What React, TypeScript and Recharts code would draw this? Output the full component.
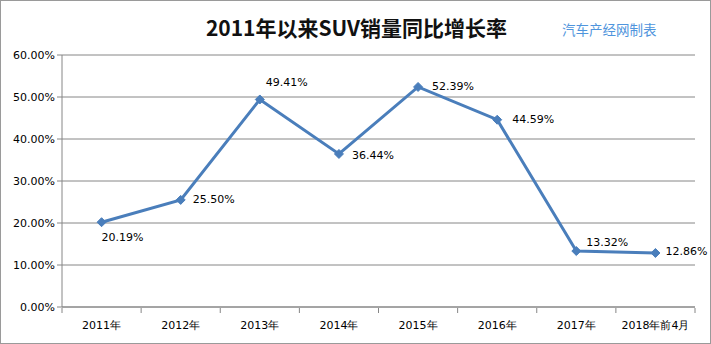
import { CartesianGrid, LabelList, Line, LineChart, XAxis, YAxis } from "recharts";

const categories = [
  "2011年",
  "2012年",
  "2013年",
  "2014年",
  "2015年",
  "2016年",
  "2017年",
  "2018年前4月",
];
const growth = [20.19, 25.5, 49.41, 36.44, 52.39, 44.59, 13.32, 12.86];
const yTicks = [0, 10, 20, 30, 40, 50, 60];

const data = categories.map((name, i) => ({ name, value: growth[i] }));

// label offsets (dx, dy) relative to each point, as in the original
const labelOffsets: [number, number][] = [
  [0, 15],
  [12, 0],
  [6, -17],
  [13, 2],
  [14, 0],
  [15, 0],
  [10, -9],
  [10, -1],
];

const W = 711;
const H = 344;
const PLOT_LEFT = 62;
const PLOT_RIGHT = 695;
const BAND = (PLOT_RIGHT - PLOT_LEFT) / categories.length;
const FONT = "'DejaVu Sans', sans-serif";
const BLUE = "#4a7ebb";

function Diamond(props: any) {
  const { cx, cy } = props;
  if (cx == null || cy == null) return null;
  const r = 4.5;
  return (
    <path
      d={`M${cx},${cy - r}L${cx + r},${cy}L${cx},${cy + r}L${cx - r},${cy}Z`}
      fill={BLUE}
      stroke={BLUE}
    />
  );
}

function XTick(props: any) {
  const { x, y, payload, index } = props;
  const left = x - BAND / 2;
  return (
    <g>
      <line x1={left} x2={left} y1={y - 7} y2={y - 2} stroke="#868686" />
      {index === categories.length - 1 && (
        <line x1={left + BAND} x2={left + BAND} y1={y - 7} y2={y - 2} stroke="#868686" />
      )}
      <text
        x={x}
        y={y + 14}
        textAnchor="middle"
        fontSize={11}
        fontFamily={FONT}
        fill="#000"
      >
        {payload.value}
      </text>
    </g>
  );
}

function PointLabel(props: any) {
  const { x, y, value, index } = props;
  const [dx, dy] = labelOffsets[index] ?? [10, 0];
  return (
    <text
      x={x + dx}
      y={y + dy}
      dominantBaseline="central"
      fontSize={11}
      fontFamily={FONT}
      fill="#000"
    >
      {Number(value).toFixed(2)}%
    </text>
  );
}

export default function App() {
  return (
    <div
      style={{
        position: "absolute",
        left: 0,
        top: 0,
        width: W,
        height: H,
        boxSizing: "border-box",
        border: "1px solid #9a9a9a",
        background: "#fff",
      }}
    >
      <div
        style={{
          position: "absolute",
          left: 0,
          width: W,
          top: 10,
          textAlign: "center",
          fontFamily: "'Noto Sans CJK SC', sans-serif",
          fontWeight: 700,
          fontSize: 21,
          lineHeight: "32px",
          color: "#111",
        }}
      >
        2011年以来SUV销量同比增长率
      </div>
      <div
        style={{
          position: "absolute",
          left: 561,
          top: 18,
          fontFamily: "'Noto Sans CJK SC', sans-serif",
          fontSize: 13.5,
          lineHeight: "20px",
          color: "#4f95dd",
        }}
      >
        汽车产经网制表
      </div>
      <div style={{ position: "absolute", left: -1, top: -1 }}>
        <LineChart
          width={W}
          height={H}
          data={data}
          margin={{ top: 55, right: W - PLOT_RIGHT, bottom: 7, left: 0 }}
        >
          <CartesianGrid vertical={false} stroke="#868686" />
          <XAxis
            dataKey="name"
            scale="band"
            axisLine={{ stroke: "#868686" }}
            tickLine={false}
            tick={<XTick />}
            height={30}
            interval={0}
          />
          <YAxis
            domain={[0, 60]}
            ticks={yTicks}
            width={PLOT_LEFT}
            axisLine={{ stroke: "#868686" }}
            tickLine={{ stroke: "#868686" }}
            tickSize={5}
            tickFormatter={(v: number) => `${v.toFixed(2)}%`}
            tick={{ fontSize: 11, fill: "#000", fontFamily: FONT }}
          />
          <Line
            type="linear"
            dataKey="value"
            stroke={BLUE}
            strokeWidth={3}
            dot={<Diamond />}
            activeDot={false}
            isAnimationActive={false}
          >
            <LabelList dataKey="value" content={<PointLabel />} />
          </Line>
        </LineChart>
      </div>
    </div>
  );
}
